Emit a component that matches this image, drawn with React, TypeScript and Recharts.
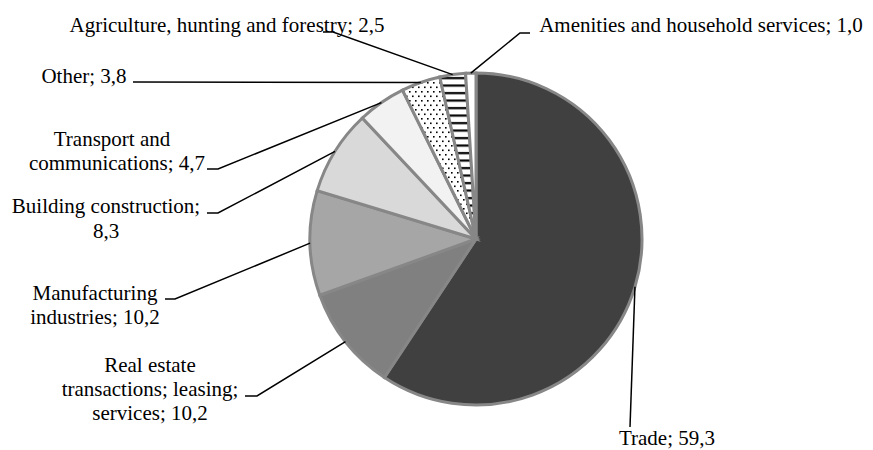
import { PieChart, Pie, Cell } from "recharts";

// Sectors, clockwise from 12 o'clock
const sectors = [
  "Trade",
  "Real estate transactions; leasing; services",
  "Manufacturing industries",
  "Building construction",
  "Transport and communications",
  "Other",
  "Agriculture, hunting and forestry",
  "Amenities and household services",
];
const shares = [59.3, 10.2, 10.2, 8.3, 4.7, 3.8, 2.5, 1.0];

// Label text per sector, {v} is replaced by the share
const labelText = [
  ["Trade; {v}"],
  ["Real estate", "transactions; leasing;", "services; {v}"],
  ["Manufacturing", "industries; {v}"],
  ["Building construction;", "{v}"],
  ["Transport and", "communications; {v}"],
  ["Other; {v}"],
  ["Agriculture, hunting and forestry; {v}"],
  ["Amenities and household services; {v}"],
];

const fills = [
  "#404040",
  "#808080",
  "#a6a6a6",
  "#d9d9d9",
  "#f2f2f2",
  "url(#dots)",
  "url(#hstripes)",
  "#ffffff",
];

// Leader line bends and label text placement
const labelLayout = [
  { path: [[630, 427]], lines: [{ x: 667, y: 445 }] },
  {
    path: [[257, 396], [245, 396]],
    lines: [{ x: 150, y: 372 }, { x: 150, y: 396 }, { x: 150, y: 420 }],
  },
  { path: [[175, 299], [165, 299]], lines: [{ x: 95, y: 300 }, { x: 95, y: 324 }] },
  { path: [[218, 213], [207, 213]], lines: [{ x: 106, y: 213 }, { x: 106, y: 238 }] },
  { path: [[218, 169], [207, 169]], lines: [{ x: 112, y: 146 }, { x: 117, y: 170 }] },
  { path: [[133, 82]], lines: [{ x: 84, y: 83 }] },
  { path: [[333, 32], [323, 32]], lines: [{ x: 227, y: 32 }] },
  { path: [[520, 33], [530, 33]], lines: [{ x: 701, y: 32 }] },
];

const data = sectors.map((name, i) => ({ name, value: shares[i] }));

const RADIAN = Math.PI / 180;
const fmt = (v: number) => v.toFixed(1).replace(".", ",");
const serif = "Liberation Serif, Times New Roman, serif";

const renderLabel = (props: any) => {
  const { cx, cy, midAngle, outerRadius, index, value } = props;
  const sx = cx + outerRadius * Math.cos(-midAngle * RADIAN);
  const sy = cy + outerRadius * Math.sin(-midAngle * RADIAN);
  const layout = labelLayout[index];
  const points = [[sx, sy], ...layout.path].map((p) => p.join(",")).join(" ");
  return (
    <g key={`label-${index}`}>
      <polyline points={points} fill="none" stroke="#000" strokeWidth={1.5} />
      {labelText[index].map((line, j) => (
        <text
          key={j}
          x={layout.lines[j].x}
          y={layout.lines[j].y}
          textAnchor="middle"
          fill="#000"
          style={{ fontFamily: serif, fontSize: 21 }}
        >
          {line.replace("{v}", fmt(value))}
        </text>
      ))}
    </g>
  );
};

export default function App() {
  return (
    <div
      style={{
        position: "absolute",
        left: 0,
        top: 0,
        width: 873,
        height: 450,
        background: "#fff",
        fontFamily: serif,
      }}
    >
      <PieChart width={873} height={450}>
        <defs>
          <pattern id="dots" width={6} height={9} patternUnits="userSpaceOnUse">
            <rect width={6} height={9} fill="#fff" />
            <rect x={1} y={1} width={1.6} height={1.6} fill="#000" />
            <rect x={4} y={5.5} width={1.6} height={1.6} fill="#000" />
          </pattern>
          <pattern id="hstripes" width={8} height={7.5} patternUnits="userSpaceOnUse">
            <rect width={8} height={7.5} fill="#fff" />
            <rect y={2} width={8} height={2.2} fill="#000" />
          </pattern>
        </defs>
        <Pie
          data={data}
          dataKey="value"
          nameKey="name"
          cx={471}
          cy={234}
          outerRadius={166}
          startAngle={90}
          endAngle={-270}
          stroke="#878787"
          strokeWidth={3}
          label={renderLabel}
          labelLine={false}
          isAnimationActive={false}
        >
          {data.map((d, i) => (
            <Cell key={d.name} fill={fills[i]} />
          ))}
        </Pie>
      </PieChart>
    </div>
  );
}
